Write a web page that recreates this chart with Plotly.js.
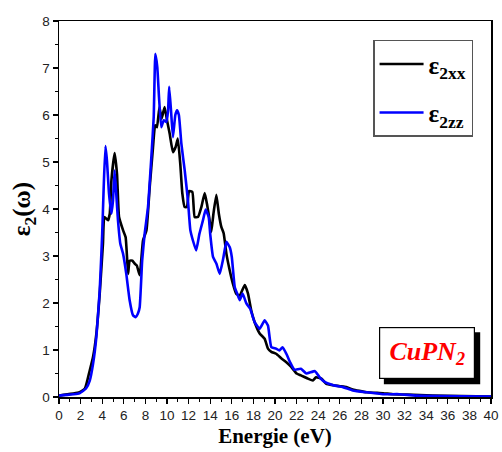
<!DOCTYPE html>
<html>
<head>
<meta charset="utf-8">
<script src="https://cdn.plot.ly/plotly-3.0.1.min.js"></script>
<style>html,body{margin:0;padding:0;background:#fff}#chart{width:502px;height:452px}</style>
</head>
<body>
<div id="chart"></div>
<script>
// epsilon_2xx (black)
const exxE = [0,1.9,2.4,2.85,3.15,3.46,3.77,4.07,4.2,4.54,4.7,4.85,5.15,5.37,5.56,5.93,6.17,6.4,6.54,6.8,7.0,7.2,7.47,7.78,8.1,8.4,8.7,8.9,9.07,9.3,9.5,9.78,10.0,10.25,10.55,10.8,11.0,11.23,11.42,11.64,11.85,12.04,12.35,12.56,12.87,13.18,13.49,13.7,13.9,14.1,14.3,14.57,14.8,15.03,15.25,15.5,15.8,16.1,16.4,16.73,17.2,17.5,17.8,18.1,18.58,19.04,19.35,19.66,20.1,20.6,21.05,21.5,22.0,22.4,23.05,23.5,23.8,24.3,24.75,25.4,26.0,26.6,27.2,27.8,28.5,30.0,30.9,32.2,34.6,40];
const exxV = [0.03,0.1,0.18,0.57,0.85,1.35,2.2,3.26,3.83,3.76,3.9,4.6,5.19,4.75,3.83,3.55,3.4,2.62,2.9,2.9,2.84,2.8,2.59,3.33,3.55,4.47,5.3,5.78,5.74,6.17,5.92,6.17,5.89,5.6,5.21,5.32,5.5,4.96,4.33,4.04,4.04,4.38,4.36,3.83,3.83,4.04,4.34,4.11,3.83,3.51,3.9,4.3,3.9,3.62,3.48,3.05,2.7,2.41,2.2,2.16,2.38,2.2,1.84,1.6,1.35,1.24,1.03,0.96,0.92,0.82,0.74,0.64,0.5,0.46,0.39,0.35,0.42,0.39,0.28,0.25,0.23,0.21,0.16,0.13,0.1,0.08,0.06,0.05,0.03,0.01];
// epsilon_2zz (blue)
const ezzE = [0,1.9,2.5,2.85,3.15,3.46,3.77,4.0,4.14,4.3,4.44,4.63,4.85,5.0,5.15,5.3,5.46,5.68,5.93,6.23,6.54,6.85,7.1,7.3,7.47,7.7,7.93,8.24,8.55,8.77,8.92,9.1,9.26,9.47,9.7,9.94,10.1,10.2,10.37,10.55,10.77,10.93,11.1,11.33,11.64,11.94,12.16,12.4,12.7,13.0,13.33,13.58,13.86,14.0,14.26,14.57,14.88,15.2,15.5,15.8,16.0,16.27,16.5,16.73,17.0,17.35,17.7,18.1,18.58,19.04,19.35,19.66,20.1,20.4,20.7,21.05,21.4,21.8,22.4,22.9,23.7,24.1,24.6,25.4,26.3,27.2,28.5,30.0,31.5,33.1,40];
const ezzV = [0.03,0.08,0.18,0.35,0.7,1.28,2.27,3.47,4.47,5.34,5.03,4.33,3.9,4.18,4.82,4.33,3.76,3.26,3.05,2.62,2.06,1.74,1.7,1.77,1.91,2.9,3.47,4.04,5.1,5.96,7.3,7.02,6.38,5.74,5.89,5.85,6.1,6.6,6.1,5.53,6.0,6.1,6.0,5.39,4.82,4.18,3.55,3.33,3.12,3.47,3.76,3.99,3.83,3.47,2.98,2.84,2.62,2.94,3.3,3.19,2.98,2.34,2.2,2.06,2.2,1.99,1.88,1.6,1.45,1.63,1.52,1.06,1.03,0.99,1.06,0.92,0.74,0.58,0.6,0.5,0.55,0.43,0.32,0.25,0.21,0.14,0.1,0.06,0.06,0.03,0.01];
const seriesNames = ['ε<sub>2xx</sub>','ε<sub>2zz</sub>'];
const xTicks = [0,2,4,6,8,10,12,14,16,18,20,22,24,26,28,30,32,34,36,38,40];
const yTicks = [0,1,2,3,4,5,6,7,8];

const traces = [
  {x: exxE, y: exxV, name: seriesNames[0], legendgroup:'a', type:'scatter', mode:'lines', line:{color:'#000000', width:2.6, shape:'spline', smoothing:0.4}},
  {x: ezzE, y: ezzV, name: seriesNames[1], legendgroup:'b', type:'scatter', mode:'lines', line:{color:'#0000ff', width:2.6, shape:'spline', smoothing:0.4}}
];
const tickFont = {family:'Liberation Sans, Arial, sans-serif', size:13.5, color:'#222'};
const serif = 'Liberation Serif, Times New Roman, serif';
const layout = {
  width:502, height:452,
  margin:{l:59, r:11, t:21, b:55},
  paper_bgcolor:'#fff', plot_bgcolor:'#fff',
  showlegend:true,
  legend:{x:0.727, y:0.95, xanchor:'left', yanchor:'top', bgcolor:'#fff', bordercolor:'#555', borderwidth:1.5,
    font:{family:serif, size:25, color:'#000', weight:'bold'}, tracegroupgap:13, itemwidth:44},
  xaxis:{range:[0,40], tickvals:xTicks, ticktext:xTicks.map(String), ticks:'outside', ticklen:5, tickwidth:1.2, tickcolor:'#000',
    minor:{dtick:1, ticks:'outside', ticklen:3, tickwidth:1, tickcolor:'#000'},
    showline:true, linecolor:'#000', linewidth:1.5, mirror:true, showgrid:false, zeroline:false, tickfont:tickFont,
    title:{text:'Energie (eV)', font:{family:serif, size:21, color:'#000', weight:'bold'}, standoff:6}},
  yaxis:{range:[0,8], tickvals:yTicks, ticktext:yTicks.map(String), ticks:'outside', ticklen:5, tickwidth:1.2, tickcolor:'#000',
    minor:{dtick:0.5, ticks:'outside', ticklen:3, tickwidth:1, tickcolor:'#000'},
    showline:true, linecolor:'#000', linewidth:1.5, mirror:true, showgrid:false, zeroline:false, tickfont:tickFont,
    title:{text:'ε<sub>2</sub>(ω)', font:{family:serif, size:25, color:'#000', weight:'bold'}, standoff:4}},
  shapes:[
    {type:'rect', xref:'paper', yref:'paper', x0:0.752, x1:0.975, y0:0.034, y1:0.172, fillcolor:'#000', line:{width:0}, layer:'below'}
  ],
  annotations:[
    {xref:'paper', yref:'paper', x:0.852, y:0.116, xanchor:'center', yanchor:'middle', showarrow:false,
     text:'<i>CuPN<sub>2</sub></i>', font:{family:serif, size:26, color:'#ff0000', weight:'bold'},
     bgcolor:'#fff', bordercolor:'#000', borderwidth:1.2, width:92, height:48, borderpad:1}
  ]
};
Plotly.newPlot('chart', traces, layout, {displayModeBar:false, staticPlot:true});
</script>
</body>
</html>
